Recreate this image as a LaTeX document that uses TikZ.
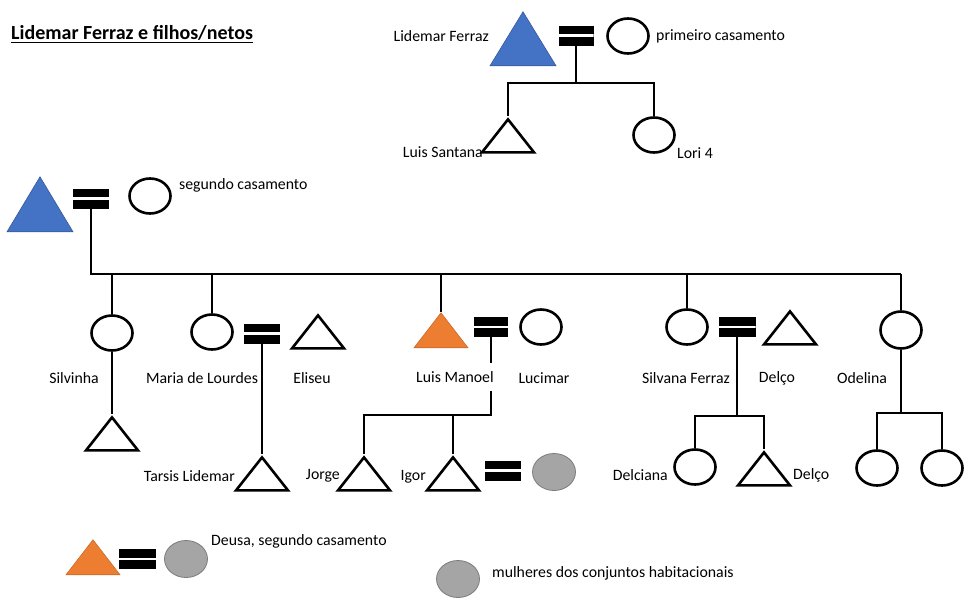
\documentclass[tikz,border=0pt]{standalone}
\usepackage{fontspec}
\setmainfont{Carlito}
\usetikzlibrary{shapes.geometric,calc}
\definecolor{offblue}{HTML}{4472C4}
\definecolor{offorange}{HTML}{ED7D31}
\definecolor{offgrey}{HTML}{A5A5A5}
\begin{document}
\begin{tikzpicture}[x=1pt,y=-1pt,
  fem/.style={ellipse,draw,line width=2.6pt,minimum width=41pt,minimum height=35pt,inner sep=0pt},
  tri/.style={isosceles triangle,isosceles triangle stretches,shape border rotate=90,inner sep=0pt,anchor=apex,minimum width=52pt,minimum height=33pt},
  mal/.style={tri,draw,line width=2.6pt},
  bluetri/.style={tri,fill=offblue,draw=offblue!80!black,line width=0.6pt,minimum width=66pt,minimum height=54pt},
  orangetri/.style={tri,fill=offorange,draw=offorange!85!black,line width=0.6pt,minimum width=54pt,minimum height=35pt},
  greyc/.style={ellipse,fill=offgrey,draw=offgrey!75!black,line width=0.8pt,minimum width=43pt,minimum height=37pt,inner sep=0pt},
  marr/.style={rectangle,fill=black,inner sep=0pt,minimum width=35pt,minimum height=20pt,
    path picture={\draw[white,line width=2.6pt] (path picture bounding box.west) -- (path picture bounding box.east);}},
  lnk/.style={line width=2pt},
  lbl/.style={font=\fontsize{15.8}{18}\selectfont,inner sep=0pt}]
\useasboundingbox (0,0) rectangle (965,597);

% title
\node[anchor=west,inner sep=0pt,font=\bfseries\fontsize{20}{24}\selectfont] (title) at (11,34) {\underline{Lidemar Ferraz e filhos/netos}};

% first marriage
\node[bluetri] (lf1) at (523,11) {};
\node[marr] (m1) at (576,35.5) {};
\node[fem] (c1) at (628,36) {};
\node[lbl,anchor=east] (lf1l) at (489,36) {Lidemar Ferraz};
\node[lbl,anchor=west] (c1l) at (656,36) {primeiro casamento};
\coordinate (j1) at (576,83);
\node[mal] (ls) at (508,116) {};
\node[fem] (lori) at (654,135) {};
\node[lbl,anchor=east] (lsl) at (483,152) {Luis Santana};
\node[lbl,anchor=west] (loril) at (677,153) {Lori 4};
\draw[lnk] (m1.south) -- (j1);
\draw[lnk] (ls.apex) -- (ls.apex |- j1) -- (lori.north |- j1) -- (lori.north);

% second marriage
\node[bluetri,minimum height=55pt] (lf2) at (40,176) {};
\node[marr,minimum width=36pt] (m2) at (91,198.5) {};
\node[fem] (c2) at (150,196) {};
\node[lbl,anchor=west] (c2l) at (179,185) {segundo casamento};
\coordinate (b0) at (91,274);
\coordinate (b1) at (901,274);
\draw[lnk] (m2.south) -- (b0) -- (b1);

% Silvinha
\node[fem] (silv) at (112,333) {};
\node[mal] (silvt) at (112,414) {};
\node[lbl] (silvl) at (74,378) {Silvinha};
\draw[lnk] (silv.north |- b0) -- (silv.north);
\draw[lnk] (silv.south) -- (silvt.apex);

% Maria de Lourdes
\node[fem] (maria) at (212,332) {};
\node[marr,minimum width=36pt] (m3) at (262,333.5) {};
\node[mal] (eli) at (318,312) {};
\node[mal] (tars) at (262,454) {};
\node[lbl] (marial) at (202,378) {Maria de Lourdes};
\node[lbl] (elil) at (312,378) {Eliseu};
\node[lbl,anchor=east] (tarsl) at (235,476) {Tarsis Lidemar};
\draw[lnk] (maria.north |- b0) -- (maria.north);
\draw[lnk] (m3.south) -- (tars.apex);

% Luis Manoel
\node[orangetri] (luis) at (441,312) {};
\node[marr,minimum width=34pt] (m4) at (491,327) {};
\node[fem] (luc) at (541,327) {};
\coordinate (j4) at (491,415);
\node[mal] (jorge) at (364,454) {};
\node[mal] (igor) at (453,454) {};
\node[marr,minimum width=36pt] (m5) at (503,470.5) {};
\node[greyc] (g1) at (554,472) {};
\node[lbl] (lucl) at (544,378) {Lucimar};
\node[lbl,anchor=east] (jorgel) at (340,476) {Jorge};
\node[lbl,anchor=east] (igorl) at (426,477) {Igor};
\draw[lnk] (luis.apex |- b0) -- (luis.apex);
\draw[lnk] (m4.south) -- (j4) -- (jorge.apex |- j4) -- (jorge.apex);
\draw[lnk] (igor.apex |- j4) -- (igor.apex);
\node[lbl,fill=white,inner xsep=1pt,inner ysep=8pt] (luisl) at (455,377) {Luis Manoel};

% Silvana Ferraz
\node[fem] (silva) at (687,327) {};
\node[marr,minimum width=37pt] (m6) at (737,327) {};
\node[mal] (delco) at (790,308) {};
\coordinate (j6) at (737,416);
\node[fem] (delci) at (695,467) {};
\node[mal] (delco2) at (764,449) {};
\node[lbl] (silval) at (686,378) {Silvana Ferraz};
\node[lbl] (delcol) at (777,378) {Delço};
\node[lbl,anchor=east] (delcil) at (668,475) {Delciana};
\node[lbl,anchor=west] (delco2l) at (793,475) {Delço};
\draw[lnk] (silva.north |- b0) -- (silva.north);
\draw[lnk] (m6.south) -- (j6) -- (delci.north |- j6) -- (delci.north);
\draw[lnk] (j6) -- (delco2.apex |- j6) -- (delco2.apex);

% Odelina
\node[fem,minimum height=37pt] (odel) at (901,330) {};
\coordinate (j7) at (901,413);
\node[fem] (od1) at (877,468) {};
\node[fem] (od2) at (942,468) {};
\node[lbl] (odell) at (862,378) {Odelina};
\draw[lnk] (b1) -- (odel.north);
\draw[lnk] (odel.south) -- (j7);
\draw[lnk] (od1.north) -- (od1.north |- j7) -- (od2.north |- j7) -- (od2.north);

% legend
\node[orangetri] (lego) at (93,539) {};
\node[marr,minimum width=37pt] (m7) at (137.5,559) {};
\node[greyc] (legg) at (186,559) {};
\node[lbl,anchor=west] (legl) at (211,541) {Deusa, segundo casamento};
\node[greyc] (legg2) at (458,579) {};
\node[lbl,anchor=west] (legl2) at (492,573) {mulheres dos conjuntos habitacionais};
\end{tikzpicture}
\end{document}
